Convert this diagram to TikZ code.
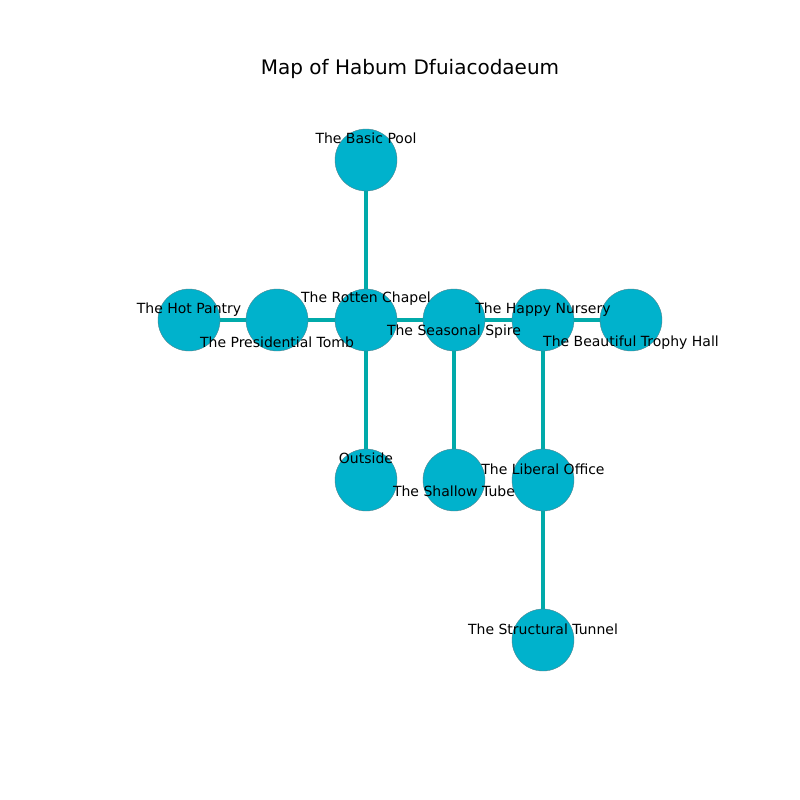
\documentclass[tikz,border=0pt]{standalone}
\usepackage{fontspec}
\setmainfont{DejaVu Sans}
\definecolor{nodefill}{RGB}{0,178,204}
\definecolor{nodeedge}{RGB}{80,130,140}
\definecolor{edgecol}{RGB}{0,170,170}
\begin{document}
\begin{tikzpicture}[x=0.75pt,y=-0.75pt,
  room/.style={circle,fill=nodefill,draw=nodeedge,line width=0.3pt,minimum size=46.5pt,inner sep=0pt},
  lab/.style={inner sep=0pt,yshift=-1.3pt,font=\fontsize{10.5}{12}\selectfont},
  link/.style={draw=edgecol,line width=3.6pt}]
\useasboundingbox (0,0) rectangle (800,800);
\node[font=\fontsize{15}{17}\selectfont,inner sep=0pt,yshift=-1.3pt] (title) at (410,67) {Map of Habum Dfuiacodaeum};
\coordinate (pBP) at (366,160);
\coordinate (pHP) at (189,320);
\coordinate (pPT) at (277,320);
\coordinate (pRC) at (366,320);
\coordinate (pSS) at (454,320);
\coordinate (pHN) at (543,320);
\coordinate (pTH) at (631,320);
\coordinate (pOU) at (366,480);
\coordinate (pST) at (454,480);
\coordinate (pLO) at (543,480);
\coordinate (pTU) at (543,640);
\draw[link] (pBP) -- (pRC);
\draw[link] (pHP) -- (pPT);
\draw[link] (pPT) -- (pRC);
\draw[link] (pRC) -- (pSS);
\draw[link] (pSS) -- (pHN);
\draw[link] (pHN) -- (pTH);
\draw[link] (pRC) -- (pOU);
\draw[link] (pSS) -- (pST);
\draw[link] (pHN) -- (pLO);
\draw[link] (pLO) -- (pTU);
\node[room] (BP) at (pBP) {};
\node[room] (HP) at (pHP) {};
\node[room] (PT) at (pPT) {};
\node[room] (RC) at (pRC) {};
\node[room] (SS) at (pSS) {};
\node[room] (HN) at (pHN) {};
\node[room] (TH) at (pTH) {};
\node[room] (OU) at (pOU) {};
\node[room] (ST) at (pST) {};
\node[room] (LO) at (pLO) {};
\node[room] (TU) at (pTU) {};
\node[lab] (lBP) at (366,137) {The Basic Pool};
\node[lab] (lHP) at (189,308) {The Hot Pantry};
\node[lab] (lPT) at (277,341) {The Presidential Tomb};
\node[lab] (lRC) at (366,297) {The Rotten Chapel};
\node[lab] (lSS) at (454,330) {The Seasonal Spire};
\node[lab] (lHN) at (543,308) {The Happy Nursery};
\node[lab] (lTH) at (631,341) {The Beautiful Trophy Hall};
\node[lab] (lOU) at (366,457) {Outside};
\node[lab] (lST) at (454,490) {The Shallow Tube};
\node[lab] (lLO) at (543,468) {The Liberal Office};
\node[lab] (lTU) at (543,628) {The Structural Tunnel};
\end{tikzpicture}
\end{document}
